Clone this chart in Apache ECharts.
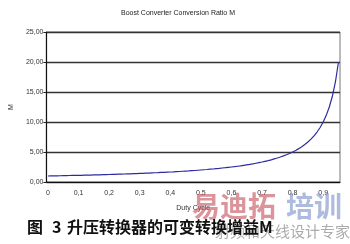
<!DOCTYPE html>
<html><head><meta charset="utf-8">
<script src="https://cdn.jsdelivr.net/npm/echarts@6/dist/echarts.min.js"></script>
<style>html,body{margin:0;padding:0;background:#fff}#c{width:350px;height:244px}</style>
</head><body><div id="c"></div>
<script>
const duty = ['0','0,01','0,02','0,03','0,04','0,05','0,06','0,07','0,08','0,09',
'0,1','0,11','0,12','0,13','0,14','0,15','0,16','0,17','0,18','0,19',
'0,2','0,21','0,22','0,23','0,24','0,25','0,26','0,27','0,28','0,29',
'0,3','0,31','0,32','0,33','0,34','0,35','0,36','0,37','0,38','0,39',
'0,4','0,41','0,42','0,43','0,44','0,45','0,46','0,47','0,48','0,49',
'0,5','0,51','0,52','0,53','0,54','0,55','0,56','0,57','0,58','0,59',
'0,6','0,61','0,62','0,63','0,64','0,65','0,66','0,67','0,68','0,69',
'0,7','0,71','0,72','0,73','0,74','0,75','0,76','0,77','0,78','0,79',
'0,8','0,81','0,82','0,83','0,84','0,85','0,86','0,87','0,88','0,89',
'0,9','0,91','0,92','0,93','0,94','0,95'];
const ratioM = [1.00,1.01,1.02,1.03,1.04,1.05,1.06,1.08,1.09,1.10,
1.11,1.12,1.14,1.15,1.16,1.18,1.19,1.20,1.22,1.23,
1.25,1.27,1.28,1.30,1.32,1.33,1.35,1.37,1.39,1.41,
1.43,1.45,1.47,1.49,1.52,1.54,1.56,1.59,1.61,1.64,
1.67,1.69,1.72,1.75,1.79,1.82,1.85,1.89,1.92,1.96,
2.00,2.04,2.08,2.13,2.17,2.22,2.27,2.33,2.38,2.44,
2.50,2.56,2.63,2.70,2.78,2.86,2.94,3.03,3.13,3.23,
3.33,3.45,3.57,3.70,3.85,4.00,4.17,4.35,4.55,4.76,
5.00,5.26,5.56,5.88,6.25,6.67,7.14,7.69,8.33,9.09,
10.00,11.11,12.50,14.29,16.67,20.00];
const yTicks = ['0,00','5,00','10,00','15,00','20,00','25,00'];
const titleText = 'Boost Converter Conversion Ratio M';
const xName = 'Duty Cycle';
const yName = 'M';

const chart = echarts.init(document.getElementById('c'));
chart.setOption({
  animation: false,
  title: { text: titleText, left: 173, top: 5, textAlign: 'center',
    textStyle: { fontFamily: 'Liberation Sans', fontSize: 7, fontWeight: 'normal', color: '#222' } },
  grid: { left: 43, right: 10, top: 32, bottom: 62, show: true, borderColor: '#777', borderWidth: 1 },
  xAxis: {
    type: 'category', data: duty, boundaryGap: true,
    name: xName, nameLocation: 'middle', nameGap: 23,
    nameTextStyle: { fontFamily: 'Liberation Sans', fontSize: 7, color: '#333' },
    axisLine: { lineStyle: { color: '#111', width: 1.2 } },
    axisTick: { interval: 0, length: 3, lineStyle: { color: '#222', width: 1 } },
    axisLabel: { interval: 9, margin: 8, fontFamily: 'Liberation Sans', fontSize: 7, color: '#333' }
  },
  yAxis: {
    type: 'value', min: 0, max: 25, interval: 5,
    name: yName, nameLocation: 'middle', nameGap: 30, nameRotate: 90,
    nameTextStyle: { fontFamily: 'Liberation Sans', fontSize: 7, color: '#333' },
    axisLine: { show: true, lineStyle: { color: '#111', width: 1.2 } },
    axisTick: { show: true, length: 3, lineStyle: { color: '#222' } },
    axisLabel: { margin: 3, fontFamily: 'Liberation Sans', fontSize: 7, color: '#333',
      formatter: (v) => yTicks[Math.round(v / 5)] },
    splitLine: { lineStyle: { color: '#333', width: 1.3 } }
  },
  series: [{ type: 'line', data: ratioM, showSymbol: false, symbol: 'none',
    lineStyle: { color: '#2c2ca0', width: 1.2 } }],
  graphic: [
    { type: 'text', left: 192, top: 192, z: 1, style: { text: '易迪拓', font: 'bold 28px "Noto Sans CJK SC"', fill: 'rgba(200,90,100,0.65)' } },
    { type: 'text', left: 286, top: 192, z: 1, style: { text: '培训', font: 'bold 28px "Noto Sans CJK SC"', fill: 'rgba(120,140,200,0.6)' } },
    { type: 'text', left: 215, top: 224, z: 1, style: { text: '射频和天线设计专家', font: '15px "Noto Sans CJK SC"', fill: 'rgba(150,150,150,0.8)' } },
    { type: 'text', left: 27, top: 219, z: 5, style: { text: '图', font: 'bold 16px "Noto Sans CJK SC"', fill: '#111' } },
    { type: 'text', left: 52, top: 219, z: 5, style: { text: '3', font: 'bold 16px "Noto Sans CJK SC"', fill: '#111' } },
    { type: 'text', left: 67, top: 219, z: 5, style: { text: '升压转换器的可变转换增益M', font: 'bold 16px "Noto Sans CJK SC"', fill: '#111' } }
  ]
});
</script></body></html>
